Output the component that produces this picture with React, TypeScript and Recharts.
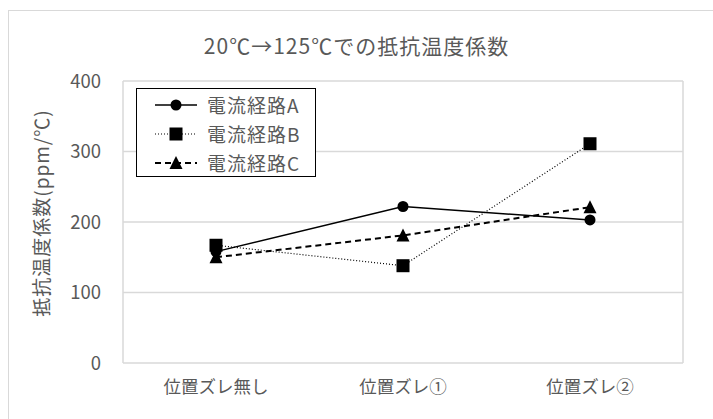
import React from 'react';
import {
  LineChart,
  Line,
  XAxis,
  YAxis,
  CartesianGrid,
} from 'recharts';

// 位置ズレ条件ごとの抵抗温度係数 (ppm/℃)
const categories = ['位置ズレ無し', '位置ズレ①', '位置ズレ②'];
const pathA = [158, 222, 203];
const pathB = [167, 138, 311];
const pathC = [150, 181, 221];
const yTicks = [0, 100, 200, 300, 400];

const seriesNames = ['電流経路A', '電流経路B', '電流経路C'];

const data = categories.map((name, i) => ({
  name,
  a: pathA[i],
  b: pathB[i],
  c: pathC[i],
}));

const FONT = '"Noto Sans CJK JP", "Noto Sans", sans-serif';
const TEXT = '#595959';

type DotProps = { cx?: number; cy?: number; index?: number };

const CircleDot = ({ cx, cy, index }: DotProps) =>
  cx == null || cy == null ? null : <circle key={`a${index}`} cx={cx} cy={cy} r={5.5} fill="#000" />;

const SquareDot = ({ cx, cy, index }: DotProps) =>
  cx == null || cy == null ? null : (
    <rect key={`b${index}`} x={cx - 6.5} y={cy - 6.5} width={13} height={13} fill="#000" />
  );

const TriangleDot = ({ cx, cy, index }: DotProps) =>
  cx == null || cy == null ? null : (
    <polygon
      key={`c${index}`}
      points={`${cx},${cy - 7} ${cx - 6.5},${cy + 6} ${cx + 6.5},${cy + 6}`}
      fill="#000"
    />
  );

const legendItems = [
  { name: seriesNames[0], dash: undefined, width: 1.5, Marker: CircleDot },
  { name: seriesNames[1], dash: '1 2', width: 1.2, Marker: SquareDot },
  { name: seriesNames[2], dash: '6 4', width: 2, Marker: TriangleDot },
];

const LegendBox = () => (
  <div
    style={{
      position: 'absolute',
      left: 136,
      top: 88,
      width: 180,
      height: 89,
      border: '1.5px solid #000',
      background: '#fff',
      boxSizing: 'border-box',
      paddingTop: 1,
    }}
  >
    {legendItems.map(({ name, dash, width, Marker }) => (
      <div key={name} style={{ display: 'flex', alignItems: 'center', height: 29 }}>
        <svg width={56} height={20} style={{ marginLeft: 14 }}>
          <line x1={4} y1={10} x2={46} y2={10} stroke="#000" strokeWidth={width} strokeDasharray={dash} />
          <Marker cx={25} cy={10} />
        </svg>
        <span
          style={{
            fontFamily: FONT,
            fontSize: 19,
            letterSpacing: 1,
            color: TEXT,
            lineHeight: '20px',
          }}
        >
          {name}
        </span>
      </div>
    ))}
  </div>
);

const AxisTitle = ({ viewBox }: any) => {
  const cy = viewBox.y + viewBox.height / 2 - 9;
  return (
    <text
      x={40}
      y={cy}
      transform={`rotate(-90, 40, ${cy})`}
      textAnchor="middle"
      dominantBaseline="central"
      fill={TEXT}
      fontSize={19}
      letterSpacing={1}
      fontFamily={FONT}
    >
      抵抗温度係数(ppm/℃)
    </text>
  );
};

export default function App() {
  return (
    <div
      style={{
        position: 'absolute',
        left: 0,
        top: 0,
        width: 713,
        height: 419,
        overflow: 'hidden',
        background: '#fff',
      }}
    >
      <div
        style={{
          position: 'absolute',
          left: 8,
          top: 10,
          width: 740,
          height: 440,
          border: '1px solid #d9d9d9',
        }}
      />
      <div
        style={{
          position: 'absolute',
          left: 0,
          top: 30,
          width: 713,
          textAlign: 'center',
          fontFamily: FONT,
          fontSize: 21,
          letterSpacing: 1,
          color: TEXT,
        }}
      >
        20℃→125℃での抵抗温度係数
      </div>
      <div style={{ position: 'absolute', left: 0, top: 0 }}>
        <LineChart
          width={713}
          height={419}
          data={data}
          margin={{ top: 81, right: 30, bottom: 0, left: 0 }}
        >
          <CartesianGrid
            stroke="#d9d9d9"
            strokeWidth={1.5}
            verticalPoints={[123, 683]}
          />
          <XAxis
            dataKey="name"
            height={56}
            padding={{ left: 93, right: 93 }}
            axisLine={false}
            tickLine={false}
            tickSize={0}
            tickMargin={18}
            tick={{ fill: TEXT, fontSize: 17.5, fontFamily: FONT }}
            interval={0}
          />
          <YAxis
            width={123}
            domain={[0, 400]}
            ticks={yTicks}
            axisLine={false}
            tickLine={false}
            tickSize={0}
            tickMargin={22}
            tick={{ fill: TEXT, fontSize: 18.5, fontFamily: FONT }}
            label={<AxisTitle />}
          />
          <Line
            dataKey="b"
            name={seriesNames[1]}
            stroke="#000"
            strokeWidth={1.2}
            strokeDasharray="1 2"
            dot={<SquareDot />}
            activeDot={false}
            isAnimationActive={false}
          />
          <Line
            dataKey="c"
            name={seriesNames[2]}
            stroke="#000"
            strokeWidth={2}
            strokeDasharray="6 4"
            dot={<TriangleDot />}
            activeDot={false}
            isAnimationActive={false}
          />
          <Line
            dataKey="a"
            name={seriesNames[0]}
            stroke="#000"
            strokeWidth={1.5}
            dot={<CircleDot />}
            activeDot={false}
            isAnimationActive={false}
          />
        </LineChart>
      </div>
      <LegendBox />
    </div>
  );
}
